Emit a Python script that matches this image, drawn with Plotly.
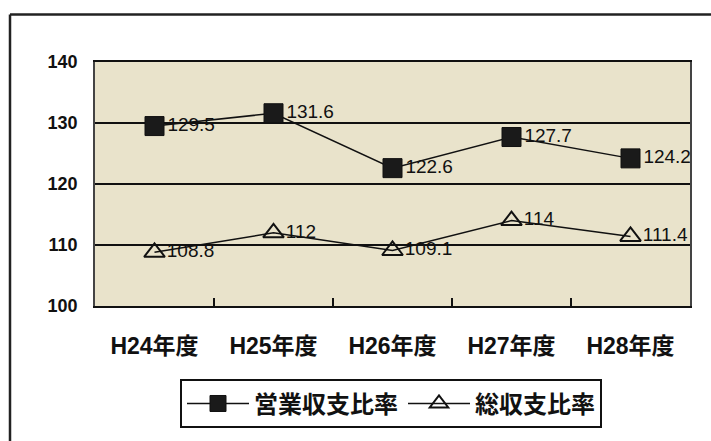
import plotly.graph_objects as go

categories = ["H24年度", "H25年度", "H26年度", "H27年度", "H28年度"]
operating_ratio = [129.5, 131.6, 122.6, 127.7, 124.2]
total_ratio = [108.8, 112, 109.1, 114, 111.4]
operating_labels = ["129.5", "131.6", "122.6", "127.7", "124.2"]
total_labels = ["108.8", "112", "109.1", "114", "111.4"]
y_ticks = [100, 110, 120, 130, 140]

W, H = 711, 441
L, R, T, B = 95, 690, 62, 308

fig = go.Figure()
fig.add_trace(go.Scatter(
    x=categories, y=operating_ratio, name="営業収支比率",
    mode="lines+markers+text", text=operating_labels, textposition="middle right",
    textfont=dict(family="Liberation Sans", size=19, color="#111111"),
    line=dict(color="#111111", width=1.5),
    marker=dict(symbol="square", size=19, color="#1a1a1a", line=dict(color="#111111", width=1)),
    cliponaxis=False,
))
fig.add_trace(go.Scatter(
    x=categories, y=total_ratio, name="総収支比率",
    mode="lines+markers+text", text=total_labels, textposition="middle right",
    textfont=dict(family="Liberation Sans", size=19, color="#111111"),
    line=dict(color="#111111", width=1.5),
    marker=dict(symbol="triangle-up-open", size=18, color="#111111", line=dict(color="#111111", width=2)),
    cliponaxis=False,
))

def px(x):
    return (x - L) / (R - L)

def py(y):
    return (B - y) / (B - T)

# outer frame (left and top edges visible; right and bottom run off the canvas)
fig.add_shape(type="line", xref="paper", yref="paper",
              x0=px(10), x1=px(10), y0=py(460), y1=py(14),
              line=dict(color="#222222", width=2.5), layer="above")
fig.add_shape(type="line", xref="paper", yref="paper",
              x0=px(10), x1=px(730), y0=py(14), y1=py(14),
              line=dict(color="#222222", width=2.5), layer="above")

fig.update_layout(
    width=W, height=H,
    margin=dict(l=L, r=W - R, t=T, b=H - B),
    paper_bgcolor="white",
    plot_bgcolor="#E9E3CB",
    showlegend=True,
    legend=dict(
        orientation="h", x=px(391), xanchor="center", y=py(382), yanchor="top",
        bordercolor="#111111", borderwidth=2, bgcolor="white",
        font=dict(family="Noto Sans CJK JP", size=24, color="#111111", weight="bold"),
        itemwidth=62, tracegroupgap=0,
    ),
    xaxis=dict(
        type="category", range=[-0.5, 4.5],
        showgrid=False, showline=True, linecolor="#111111", linewidth=2, mirror=True,
        ticks="inside", tickson="boundaries", ticklen=8, tickwidth=2, tickcolor="#111111",
        tickfont=dict(family="Liberation Sans, Noto Sans CJK JP", size=23, color="#111111", weight="bold"),
        ticklabelstandoff=18,
    ),
    yaxis=dict(
        range=[100, 140], tickvals=y_ticks,
        showgrid=True, gridcolor="#111111", gridwidth=2,
        showline=True, linecolor="#444444", linewidth=1.5, mirror=True,
        ticks="", zeroline=False,
        tickfont=dict(family="Liberation Sans", size=18, color="#111111", weight="bold"),
        ticklabelstandoff=12,
    ),
)

fig.write_html("out.html")
